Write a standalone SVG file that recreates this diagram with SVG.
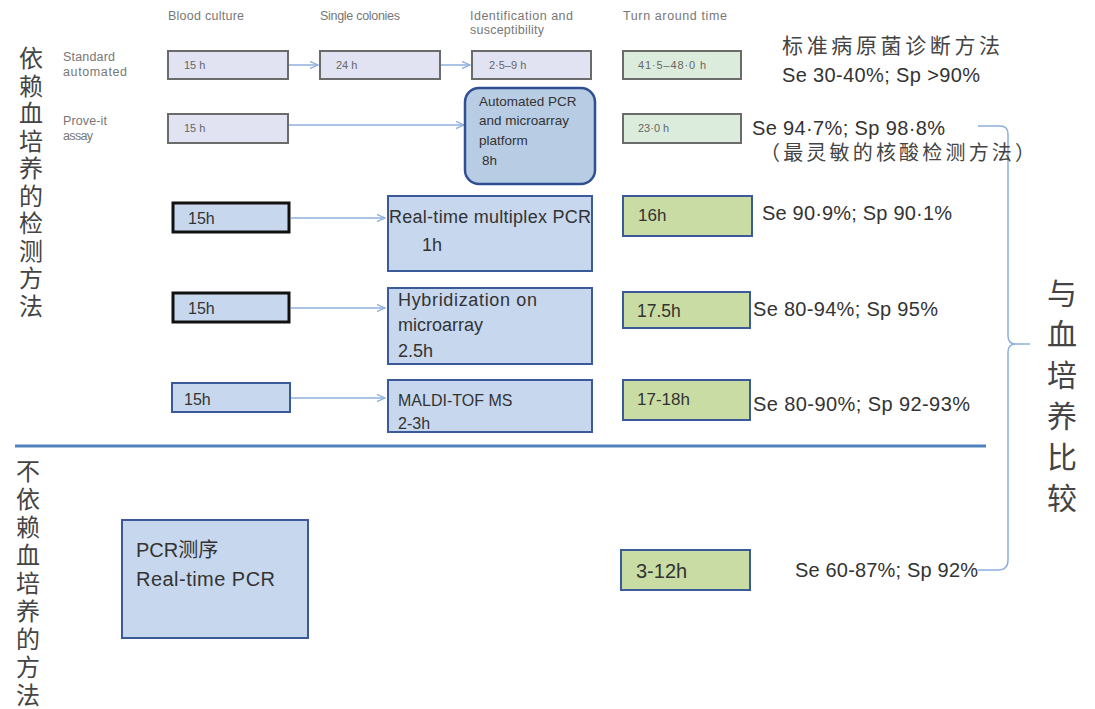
<svg xmlns="http://www.w3.org/2000/svg" width="1095" height="709" viewBox="0 0 1095 709">
<defs>
<style>
.hdr{font-family:"Liberation Sans",Arial,sans-serif;font-size:12.5px;fill:#777}
.small{font-family:"Liberation Sans",Arial,sans-serif;font-size:11px;fill:#666}
.lav{fill:#e1e3f3;stroke:#6b6b6b;stroke-width:2}
.grn1{fill:#dcecdc;stroke:#6b6b6b;stroke-width:2}
.blu{fill:#c6d7ee;stroke:#3b5a9a;stroke-width:2}
.blk{fill:#c6d7ee;stroke:#111;stroke-width:3}
.grn{fill:#c9dca3;stroke:#3b5a9a;stroke-width:2}
.lbl{font-family:"Liberation Sans",Arial,sans-serif;fill:#333}
.stat{font-family:"Liberation Sans",Arial,"Noto Sans CJK SC",sans-serif;fill:#333}
.cjk{font-family:"Noto Sans CJK SC",sans-serif;fill:#444}
.vert{writing-mode:vertical-rl}
.conn{stroke:#8fb0dc;stroke-width:1.5;fill:none}
</style>
<marker id="ah" viewBox="0 0 10 10" refX="9" refY="5" markerWidth="6" markerHeight="6" orient="auto"><path d="M0,1 L9,5 L0,9" fill="none" stroke="#8fb0dc" stroke-width="1.5"/></marker>
</defs>
<rect width="1095" height="709" fill="#fff"/>

<g id="headers">
<text class="hdr" x="168" y="20" textLength="76">Blood culture</text>
<text class="hdr" x="320" y="20" textLength="80">Single colonies</text>
<text class="hdr" x="470" y="20" textLength="103">Identification and</text>
<text class="hdr" x="470" y="34" textLength="74">susceptibility</text>
<text class="hdr" x="623" y="20" textLength="104">Turn around time</text>
<text class="hdr" x="63" y="61" textLength="52">Standard</text>
<text class="hdr" x="63" y="76" textLength="64">automated</text>
<text class="hdr" x="63" y="125" textLength="44">Prove-it</text>
<text class="hdr" x="63" y="140" textLength="30">assay</text>
</g>

<g id="left-labels">
<text class="cjk vert" font-size="24" x="31" y="46" letter-spacing="3.5">依赖血培养的检测方法</text>
<text class="cjk vert" font-size="24" x="28" y="459" letter-spacing="4">不依赖血培养的方法</text>
</g>

<g id="connectors">
<line class="conn" x1="289" y1="65" x2="318" y2="65" marker-end="url(#ah)"/>
<line class="conn" x1="441" y1="65" x2="470" y2="65" marker-end="url(#ah)"/>
<line class="conn" x1="289" y1="125" x2="464" y2="125" marker-end="url(#ah)"/>
<line class="conn" x1="291" y1="218" x2="385" y2="218" marker-end="url(#ah)"/>
<line class="conn" x1="291" y1="308" x2="385" y2="308" marker-end="url(#ah)"/>
<line class="conn" x1="291" y1="398" x2="385" y2="398" marker-end="url(#ah)"/>
<path class="conn" d="M978,126 H1000 Q1008,126 1008,134 V336 Q1008,344 1016,344 H1030 M1016,344 Q1008,344 1008,352 V560 Q1008,570 998,570 H978"/>
<line x1="15" y1="446" x2="986" y2="446" stroke="#4f81bd" stroke-width="3"/>
</g>

<g id="row1">
<rect class="lav" x="168" y="51" width="120" height="28"/><text class="small" x="184" y="69">15 h</text>
<rect class="lav" x="320" y="51" width="120" height="28"/><text class="small" x="336" y="69">24 h</text>
<rect class="lav" x="472" y="51" width="119" height="28"/><text class="small" x="489" y="69">2·5–9 h</text>
<rect class="grn1" x="623" y="51" width="118" height="28"/><text class="small" x="638" y="69" textLength="68">41·5–48·0 h</text>
</g>

<g id="row2">
<rect class="lav" x="168" y="114" width="120" height="29"/><text class="small" x="184" y="132">15 h</text>
<rect x="465" y="88" width="130" height="96" rx="14" fill="#b8cce4" stroke="#2f4f8f" stroke-width="2.5"/>
<text class="lbl" style="font-size:13.5px"><tspan x="479" y="106">Automated PCR</tspan><tspan x="479" y="125">and microarray</tspan><tspan x="479" y="145">platform</tspan><tspan x="482" y="165">8h</tspan></text>
<rect class="grn1" x="623" y="114" width="118" height="29"/><text class="small" x="638" y="132">23·0 h</text>
</g>

<g id="row3">
<rect class="blk" x="173" y="203" width="116" height="29"/><text class="lbl" style="font-size:16px" x="188" y="224">15h</text>
<rect class="blu" x="388" y="196" width="204" height="75"/>
<text class="lbl" style="font-size:18px"><tspan x="389" y="223" textLength="202">Real-time multiplex PCR</tspan><tspan x="422" y="251">1h</tspan></text>
<rect class="grn" x="623" y="196" width="129" height="40"/><text class="lbl" style="font-size:17px" x="638" y="221">16h</text>
<text class="stat" style="font-size:20px" x="762" y="220" textLength="190">Se 90·9%; Sp 90·1%</text>
</g>

<g id="row4">
<rect class="blk" x="173" y="293" width="116" height="29"/><text class="lbl" style="font-size:16px" x="188" y="314">15h</text>
<rect class="blu" x="388" y="288" width="204" height="76"/>
<text class="lbl" style="font-size:18px"><tspan x="398" y="306" textLength="139">Hybridization on</tspan><tspan x="398" y="331">microarray</tspan><tspan x="398" y="357">2.5h</tspan></text>
<rect class="grn" x="623" y="292" width="127" height="36"/><text class="lbl" style="font-size:17.5px" x="637" y="317">17.5h</text>
<text class="stat" style="font-size:20px" x="753" y="316" textLength="185">Se 80-94%; Sp 95%</text>
</g>

<g id="row5">
<rect class="blu" x="172" y="383" width="118" height="29"/><text class="lbl" style="font-size:16px" x="184" y="405">15h</text>
<rect class="blu" x="388" y="380" width="204" height="52"/>
<text class="lbl" style="font-size:16px"><tspan x="398" y="406">MALDI-TOF MS</tspan><tspan x="398" y="429">2-3h</tspan></text>
<rect class="grn" x="623" y="380" width="127" height="40"/><text class="lbl" style="font-size:17px" x="637" y="405">17-18h</text>
<text class="stat" style="font-size:20px" x="753" y="411" textLength="217">Se 80-90%; Sp 92-93%</text>
</g>

<g id="bottom">
<rect class="blu" x="122" y="520" width="186" height="118" stroke-width="2.5"/>
<text class="stat" style="font-size:20px"><tspan x="136" y="557">PCR测序</tspan><tspan x="136" y="586" textLength="139">Real-time PCR</tspan></text>
<rect class="grn" x="621" y="550" width="129" height="40" fill="#d8e5bf"/><text class="lbl" style="font-size:20px" x="636" y="578">3-12h</text>
<text class="stat" style="font-size:20px" x="795" y="577" textLength="183">Se 60-87%; Sp 92%</text>
</g>

<g id="right-notes">
<text class="cjk" font-size="21" x="782" y="53" textLength="218">标准病原菌诊断方法</text>
<text class="stat" style="font-size:20px" x="782" y="82" textLength="198">Se 30-40%; Sp &gt;90%</text>
<text class="stat" style="font-size:20px" x="752" y="135" textLength="193">Se 94·7%; Sp 98·8%</text>
<text class="cjk" font-size="20" x="760" y="160" textLength="275">（最灵敏的核酸检测方法）</text>
<text class="cjk vert" font-size="30" x="1062" y="278" letter-spacing="11">与血培养比较</text>
</g>
</svg>
